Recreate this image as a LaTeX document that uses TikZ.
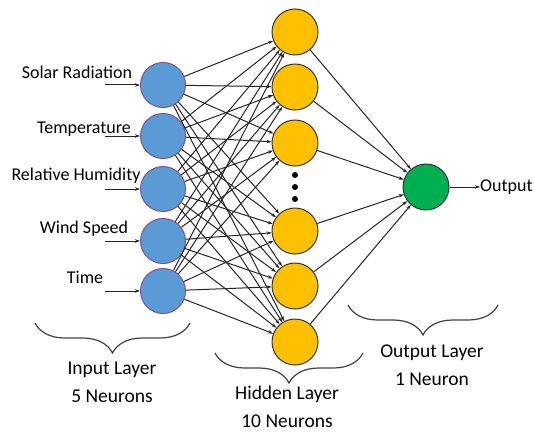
\documentclass[tikz,border=0pt]{standalone}
\usepackage{fontspec}
\setmainfont{Carlito}
\usepackage{tikz}
\usetikzlibrary{arrows.meta,positioning,decorations.pathreplacing}
\definecolor{inblue}{HTML}{5B9BD5}
\definecolor{inrim}{HTML}{7E5199}
\definecolor{hidgold}{HTML}{FFC000}
\definecolor{outgreen}{HTML}{00B050}
\tikzset{
	inneuron/.style={circle, draw=inrim, line width=1pt, fill=inblue,
		minimum size=45pt, inner sep=0pt},
	hidneuron/.style={circle, draw=black!80, line width=1pt, fill=hidgold,
		minimum size=46pt, inner sep=0pt},
	outneuron/.style={circle, draw=black!80, line width=1pt, fill=outgreen,
		minimum size=46pt, inner sep=0pt},
	netarr/.style={-{Stealth[length=5pt,width=3.5pt]}, line width=1pt, black!85},
	featlabel/.style={font=\fontsize{18}{20}\selectfont, inner sep=0pt, anchor=base},
	layerlabel/.style={font=\fontsize{19.5}{28}\selectfont, align=center, inner sep=0pt, anchor=north},
	layerbrace/.style={decorate, decoration={brace, mirror, amplitude=30pt},
		line width=1.2pt, black!75}
}

\begin{document}
\begin{tikzpicture}[x=1pt, y=-1pt]
	\useasboundingbox (0,0) rectangle (534,433);
	% input layer
	\node[inneuron] (i1) at (163,85) {};
	\node[inneuron] (i2) at (163,136) {};
	\node[inneuron] (i3) at (163,189) {};
	\node[inneuron] (i4) at (163,241) {};
	\node[inneuron] (i5) at (163,291) {};
	% hidden layer
	\node[hidneuron] (h1) at (295,32) {};
	\node[hidneuron] (h2) at (295,87) {};
	\node[hidneuron] (h3) at (295,143) {};
	\node[hidneuron] (h4) at (295,231) {};
	\node[hidneuron] (h5) at (295,286) {};
	\node[hidneuron] (h6) at (295,342) {};
	\foreach \y in {175,187,199}
		\fill (295,\y) circle (3pt);
	% output layer
	\node[outneuron] (o1) at (426,187) {};
	\foreach \i in {1,...,5}
		\foreach \h in {1,...,6}
			\draw[netarr] (i\i) -- (h\h);
	\foreach \h in {1,...,6}
		\draw[netarr] (h\h) -- (o1);
	% inputs
	\node[featlabel] (f1) at (77,79) {Solar Radiation};
	\node[featlabel] (f2) at (84,133) {Temperature};
	\node[featlabel] (f3) at (76,180) {Relative Humidity};
	\node[featlabel] (f4) at (84,233) {Wind Speed};
	\node[featlabel] (f5) at (85,283) {Time};
	\foreach \i in {1,...,5}{
		\coordinate (a\i) at ([xshift=-35pt]i\i.west);
		\draw[netarr] (a\i) -- (i\i);
	}
	% output
	\node[featlabel, anchor=west] (out) at (480,187) {Output};
	\draw[netarr] (o1) -- (out);
	% layer braces
	\draw[layerbrace] (35,323) -- (190,323);
	\draw[layerbrace] (215,353) -- (363,353);
	\draw[layerbrace] (348,305) -- (498,305);
	\node[layerlabel] (inlab) at (112,362) {Input Layer\\5 Neurons};
	\node[layerlabel] (hidlab) at (287,386) {Hidden Layer\\10 Neurons};
	\node[layerlabel] (outlab) at (432,345) {Output Layer\\1 Neuron};
\end{tikzpicture}
\end{document}
